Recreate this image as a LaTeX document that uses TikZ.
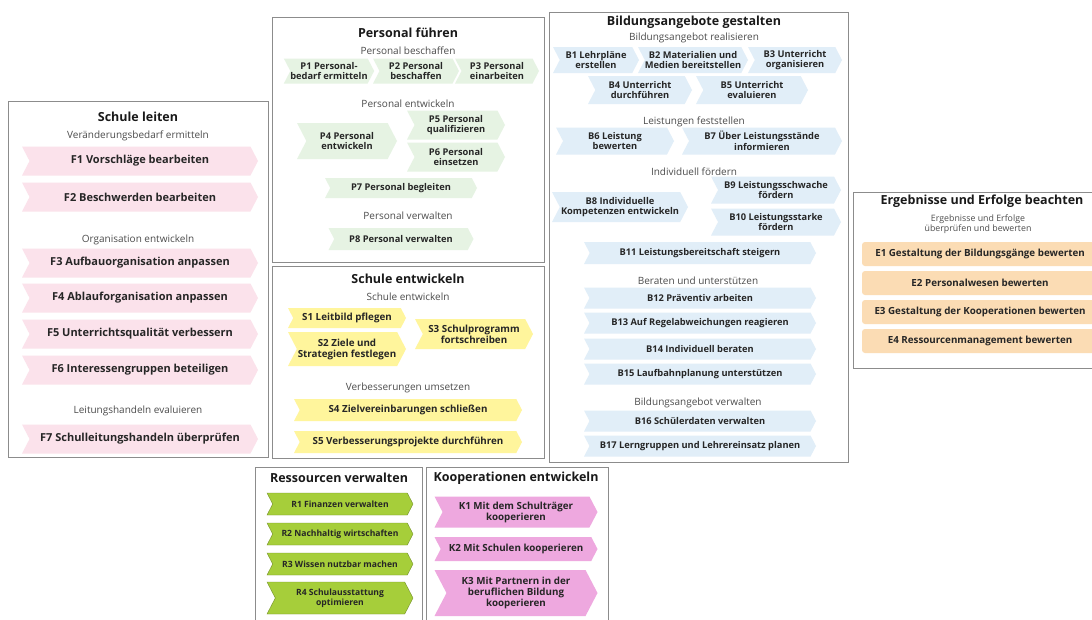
\documentclass[tikz,border=0pt]{standalone}
\usepackage{fontspec}
\setmainfont{Open Sans}
\usetikzlibrary{
    shapes.symbols
}
\definecolor{fpink}{HTML}{FBE2EB}
\definecolor{pgreen}{HTML}{E6F3E3}
\definecolor{syellow}{HTML}{FFF59C}
\definecolor{bblue}{HTML}{E1EEF8}
\definecolor{eorange}{HTML}{FBDCB4}
\definecolor{rgreen}{HTML}{A6CE3A}
\definecolor{kpink}{HTML}{EEA8DF}
\tikzset{
    panel/.style={
        draw=black!45,
        line width=0.6pt
    },
    title/.style={
        font=\fontsize{12.5}{14}\selectfont\bfseries,
        text=black!90
    },
    phase/.style={
        font=\fontsize{10}{11}\selectfont,
        text=black!70,
        align=center
    },
    boxsize/.style 2 args={
        minimum width=#1,
        minimum height=#2
    },
    task/.style={
        signal,
        signal from=west,
        signal to=east,
        signal pointer angle=125,
        inner sep=0pt,
        align=center,
        text=black!85,
        font=\fontsize{9.3}{10.5}\selectfont\bfseries
    },
    ftask/.style={task, fill=fpink, boxsize={236}{29},
        font=\fontsize{11}{12}\selectfont\bfseries},
    ptask/.style={task, fill=pgreen},
    stask/.style={task, fill=syellow,
        font=\fontsize{9.8}{11}\selectfont\bfseries},
    btask/.style={task, fill=bblue},
    etask/.style={
        rectangle,
        rounded corners=3pt,
        fill=eorange,
        inner sep=0pt,
        boxsize={236}{24},
        text=black!85,
        font=\fontsize{9.8}{11}\selectfont\bfseries
    },
    rtask/.style={task, fill=rgreen, draw=rgreen!70!black,
        boxsize={146}{22},
        font=\fontsize{8.6}{9.8}\selectfont\bfseries},
    ktask/.style={task, fill=kpink,
        font=\fontsize{9.8}{11}\selectfont\bfseries}
}
\begin{document}
\begin{tikzpicture}[
    x=1pt,
    y=-1pt
]

    \fill[white] (0,0) rectangle (1092,619);
    \useasboundingbox (0,0) rectangle (1092,619);
    \clip (0,0) rectangle (1092,619);

    % Rahmen
    \draw[panel] (8,101) rectangle (268,457);
    \draw[panel] (272,17) rectangle (544,262);
    \draw[panel] (272,266) rectangle (544,458);
    \draw[panel] (549,12) rectangle (848,462);
    \draw[panel] (853,192) rectangle (1106,368);
    \draw[panel] (255,467) rectangle (422,630);
    \draw[panel] (426,467) rectangle (608,630);

    % Schule leiten
    \node[title] (sl)  at (138,117) {Schule leiten};
    \node[phase] (sl1) at (138,136) {Veränderungsbedarf ermitteln};
    \node[ftask] (f1)  at (140,161) {F1 Vorschläge bearbeiten};
    \node[ftask] (f2)  at (140,197) {F2 Beschwerden bearbeiten};
    \node[phase] (sl2) at (138,240) {Organisation entwickeln};
    \node[ftask] (f3)  at (140,263) {F3 Aufbauorganisation anpassen};
    \node[ftask] (f4)  at (140,298) {F4 Ablauforganisation anpassen};
    \node[ftask] (f5)  at (140,334) {F5 Unterrichtsqualität verbessern};
    \node[ftask] (f6)  at (140,370) {F6 Interessengruppen beteiligen};
    \node[phase] (sl3) at (138,411) {Leitungshandeln evaluieren};
    \node[ftask] (f7)  at (140,439) {F7 Schulleitungshandeln überprüfen};

    % Personal führen
    \node[title] (pf)  at (408,33) {Personal führen};
    \node[phase] (pf1) at (408,51) {Personal beschaffen};
    \node[ptask, boxsize={88}{25}] (p1) at (329,71) {P1 Personal-\\bedarf ermitteln};
    \node[ptask, boxsize={86}{25}] (p2) at (416,71) {P2 Personal\\beschaffen};
    \node[ptask, boxsize={84}{25}] (p3) at (497,71) {P3 Personal\\einarbeiten};
    \node[phase] (pf2) at (408,104) {Personal entwickeln};
    \node[ptask, boxsize={100}{36}] (p4) at (347,141) {P4 Personal\\entwickeln};
    \node[ptask, boxsize={98}{29}]  (p5) at (456,125) {P5 Personal\\qualifizieren};
    \node[ptask, boxsize={98}{29}]  (p6) at (456,157) {P6 Personal\\einsetzen};
    \node[ptask, boxsize={152}{20}] (p7) at (401,188) {P7 Personal begleiten};
    \node[phase] (pf3) at (408,216) {Personal verwalten};
    \node[ptask, boxsize={145}{22}] (p8) at (401,239) {P8 Personal verwalten};

    % Schule entwickeln
    \node[title] (se)  at (408,279) {Schule entwickeln};
    \node[phase] (se1) at (408,297) {Schule entwickeln};
    \node[stask, boxsize={118}{20}] (s1) at (347,318) {S1 Leitbild pflegen};
    \node[stask, boxsize={118}{34}] (s2) at (347,349) {S2 Ziele und\\Strategien festlegen};
    \node[stask, boxsize={118}{30}] (s3) at (474,334) {S3 Schulprogramm\\fortschreiben};
    \node[phase] (se2) at (408,388) {Verbesserungen umsetzen};
    \node[stask, boxsize={228}{22}] (s4) at (408,410) {S4 Zielvereinbarungen schließen};
    \node[stask, boxsize={228}{22}] (s5) at (408,442) {S5 Verbesserungsprojekte durchführen};

    % Bildungsangebote gestalten
    \node[title] (bg)  at (694,22) {Bildungsangebote gestalten};
    \node[phase] (bg1) at (694,38) {Bildungsangebot realisieren};
    \node[btask, boxsize={86}{26}]  (b1) at (596,60) {B1 Lehrpläne\\erstellen};
    \node[btask, boxsize={110}{26}] (b2) at (693,60) {B2 Materialien und\\Medien bereitstellen};
    \node[btask, boxsize={94}{26}]  (b3) at (795,60) {B3 Unterricht\\organisieren};
    \node[btask, boxsize={104}{28}] (b4) at (640,90) {B4 Unterricht\\durchführen};
    \node[btask, boxsize={112}{28}] (b5) at (752,90) {B5 Unterricht\\evaluieren};
    \node[phase] (bg2) at (694,122) {Leistungen feststellen};
    \node[btask, boxsize={118}{27}] (b6) at (615,141) {B6 Leistung\\bewerten};
    \node[btask, boxsize={160}{27}] (b7) at (762,141) {B7 Über Leistungsstände\\informieren};
    \node[phase] (bg3) at (694,172) {Individuell fördern};
    \node[btask, boxsize={136}{30}] (b8)  at (620,207) {B8 Individuelle\\Kompetenzen entwickeln};
    \node[btask, boxsize={130}{27}] (b9)  at (776,190) {B9 Leistungsschwache\\fördern};
    \node[btask, boxsize={130}{27}] (b10) at (776,222) {B10 Leistungsstarke\\fördern};
    \node[btask, boxsize={232}{22}] (b11) at (700,253) {B11 Leistungsbereitschaft steigern};
    \node[phase] (bg4) at (698,281) {Beraten und unterstützen};
    \node[btask, boxsize={232}{21}] (b12) at (700,298) {B12 Präventiv arbeiten};
    \node[btask, boxsize={232}{21}] (b13) at (700,323) {B13 Auf Regelabweichungen reagieren};
    \node[btask, boxsize={232}{21}] (b14) at (700,349) {B14 Individuell beraten};
    \node[btask, boxsize={232}{21}] (b15) at (700,374) {B15 Laufbahnplanung unterstützen};
    \node[phase] (bg5) at (698,403) {Bildungsangebot verwalten};
    \node[btask, boxsize={232}{21}] (b16) at (700,421) {B16 Schülerdaten verwalten};
    \node[btask, boxsize={232}{21}] (b17) at (700,446) {B17 Lerngruppen und Lehrereinsatz planen};

    % Ergebnisse und Erfolge beachten
    \node[title] (ee)  at (982,201) {Ergebnisse und Erfolge beachten};
    \node[phase, font=\fontsize{8.8}{10}\selectfont] (ee1) at (978,224) {Ergebnisse und Erfolge\\überprüfen und bewerten};
    \node[etask] (e1) at (980,254) {E1 Gestaltung der Bildungsgänge bewerten};
    \node[etask] (e2) at (980,283) {E2 Personalwesen bewerten};
    \node[etask] (e3) at (980,312) {E3 Gestaltung der Kooperationen bewerten};
    \node[etask] (e4) at (980,341) {E4 Ressourcenmanagement bewerten};

    % Ressourcen verwalten
    \node[title] (rv) at (339,478) {Ressourcen verwalten};
    \node[rtask] (r1) at (340,504) {R1 Finanzen verwalten};
    \node[rtask] (r2) at (340,534) {R2 Nachhaltig wirtschaften};
    \node[rtask] (r3) at (340,564) {R3 Wissen nutzbar machen};
    \node[rtask, boxsize={146}{32}] (r4) at (340,598) {R4 Schulausstattung\\optimieren};

    % Kooperationen entwickeln
    \node[title] (ke) at (516,478) {Kooperationen entwickeln};
    \node[ktask, boxsize={163}{31}] (k1) at (516,512) {K1 Mit dem Schulträger\\kooperieren};
    \node[ktask, boxsize={163}{24}] (k2) at (516,549) {K2 Mit Schulen kooperieren};
    \node[ktask, boxsize={163}{46}] (k3) at (516,593) {K3 Mit Partnern in der\\beruflichen Bildung\\kooperieren};

\end{tikzpicture}
\end{document}
